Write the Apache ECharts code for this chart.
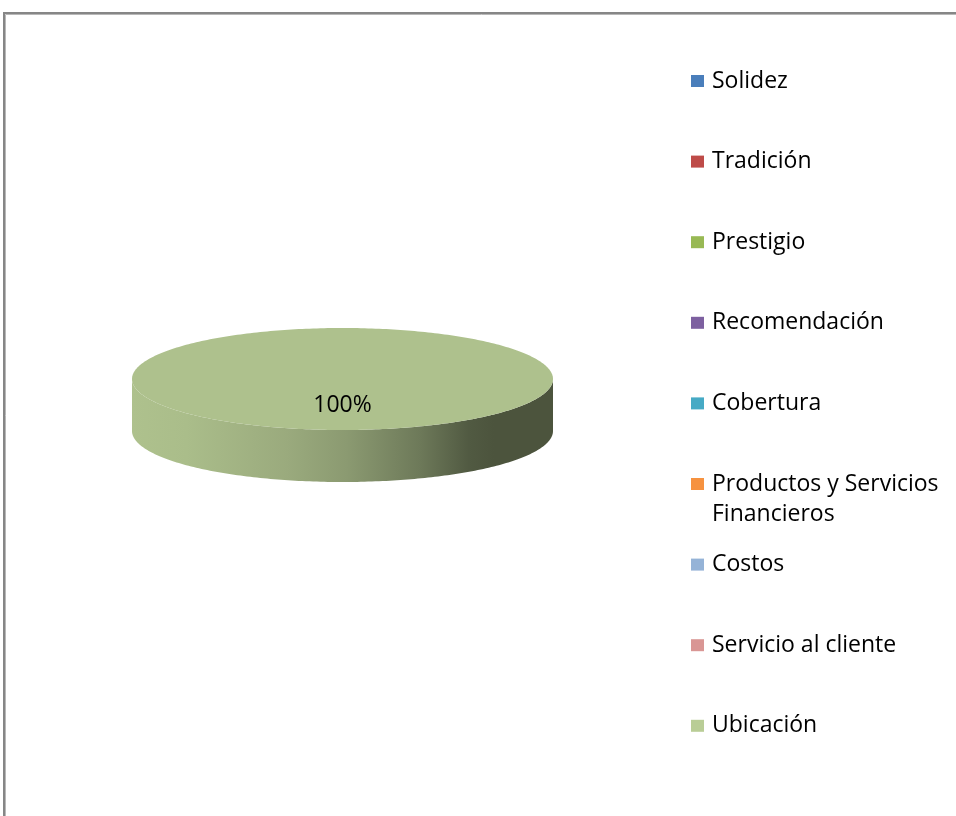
<!DOCTYPE html>
<html><head><meta charset="utf-8">
<script src="https://cdn.jsdelivr.net/npm/echarts@6/dist/echarts.min.js"></script>
<style>html,body{margin:0;padding:0;background:#fff}#c{width:956px;height:816px}</style>
</head><body><div id="c"></div>
<script>
// ---- data ----
const categories = ['Solidez', 'Tradición', 'Prestigio', 'Recomendación', 'Cobertura',
  'Productos y Servicios Financieros', 'Costos', 'Servicio al cliente', 'Ubicación'];
const values = [0, 0, 0, 0, 0, 0, 0, 0, 100];
const colors = ['#4A7EBB', '#BE4B48', '#98B954', '#7D60A0', '#46AAC5',
  '#F69240', '#95B3D7', '#D99694', '#B9CD96'];

// ---- layout / style ----
const PIE = { cx: 342.5, cy: 379, rx: 210.5, ry: 51, depth: 52 };
const FONT = '"Open Sans", "Noto Sans", sans-serif';
const FS = 23, LH = 30, WRAP = 242;
const LEG = { left: 691, first: 81, step: 80.6 };

function shade(hex, f) {
  const n = parseInt(hex.slice(1), 16);
  const r = Math.round(((n >> 16) & 255) * f), g = Math.round(((n >> 8) & 255) * f), b = Math.round((n & 255) * f);
  return 'rgb(' + r + ',' + g + ',' + b + ')';
}
const total = values.reduce((a, b) => a + b, 0);

function makeRender(idx) {
  return function (params, api) {
    const v = api.value(0);
    if (!v) return null;
    let start = 0;
    for (let k = 0; k < idx; k++) start += values[k];
    const a0 = start / total * 2 * Math.PI, a1 = (start + v) / total * 2 * Math.PI;
    const pt = (a, dy) => [PIE.cx + PIE.rx * Math.sin(a), PIE.cy - PIE.ry * Math.cos(a) + (dy || 0)];
    const arc = (b0, b1, dy) => {
      const n = Math.max(2, Math.ceil(360 * (b1 - b0) / (2 * Math.PI)));
      const out = [];
      for (let j = 0; j <= n; j++) out.push(pt(b0 + (b1 - b0) * j / n, dy));
      return out;
    };
    const base = colors[idx];
    const children = [];
    // outer wall (front half only)
    const s0 = Math.max(a0, Math.PI / 2), s1 = Math.min(a1, 3 * Math.PI / 2);
    if (s1 > s0) {
      const pts = arc(s0, s1, 0).concat(arc(s0, s1, PIE.depth).reverse());
      children.push({
        type: 'polygon', shape: { points: pts },
        style: {
          fill: {
            type: 'linear', global: true, x: PIE.cx - PIE.rx, y: 0, x2: PIE.cx + PIE.rx, y2: 0,
            colorStops: [
              { offset: 0, color: shade(base, 0.94) },
              { offset: 0.13, color: shade(base, 0.92) },
              { offset: 0.37, color: shade(base, 0.83) },
              { offset: 0.51, color: shade(base, 0.75) },
              { offset: 0.685, color: shade(base, 0.59) },
              { offset: 0.8, color: shade(base, 0.44) },
              { offset: 0.86, color: shade(base, 0.41) },
              { offset: 1, color: shade(base, 0.41) }
            ]
          }
        }
      });
    }
    // top face
    const full = (a1 - a0) >= 2 * Math.PI - 1e-9;
    const topPts = full ? arc(0, 2 * Math.PI, 0) : [[PIE.cx, PIE.cy]].concat(arc(a0, a1, 0));
    children.push({ type: 'polygon', shape: { points: topPts }, style: { fill: shade(base, 0.94) } });
    // label
    const mid = (a0 + a1) / 2;
    children.push({
      type: 'text',
      x: PIE.cx + 0.45 * PIE.rx * Math.sin(mid),
      y: PIE.cy - 0.45 * PIE.ry * Math.cos(mid) + 4,
      style: {
        text: Math.round(v / total * 100) + '%',
        align: 'center', verticalAlign: 'middle',
        font: FS + 'px ' + FONT, fill: '#000'
      }
    });
    return { type: 'group', children: children };
  };
}

const mctx = document.createElement('canvas').getContext('2d');
mctx.font = FS + 'px ' + FONT;

const legends = categories.map((name, i) => {
  const lines = mctx.measureText(name).width > WRAP ? 2 : 1;
  const c = LEG.first + LEG.step * i;
  return {
    data: [{ name: name, itemStyle: { color: colors[i] } }],
    orient: 'vertical',
    left: LEG.left,
    top: c - (2 * lines - 1) * LH / 2,
    padding: 0,
    icon: 'rect',
    itemWidth: 13, itemHeight: 12,
    selectedMode: false,
    // blank leading lines keep the first text line level with the icon
    formatter: function (n) { return '\n'.repeat(lines - 1) + n; },
    textStyle: {
      fontFamily: FONT, fontSize: FS, color: '#000', lineHeight: LH,
      width: WRAP, overflow: 'break', padding: [0, 0, 0, 3]
    }
  };
});

const chart = echarts.init(document.getElementById('c'), null, { renderer: 'canvas' });
chart.setOption({
  animation: false,
  backgroundColor: '#fff',
  graphic: [
    { type: 'rect', silent: true, shape: { x: 4, y: 13, width: 1200, height: 1200 }, style: { fill: null, stroke: '#868686', lineWidth: 2 } },
    { type: 'rect', silent: true, shape: { x: 5.5, y: 14.5, width: 1200, height: 1200 }, style: { fill: null, stroke: '#b8b8b8', lineWidth: 1 } }
  ],
  legend: legends,
  series: categories.map((name, i) => ({
    type: 'custom',
    name: name,
    coordinateSystem: 'none',
    silent: true,
    itemStyle: { color: colors[i] },
    data: [[values[i]]],
    renderItem: makeRender(i)
  }))
});
</script>
</body></html>
